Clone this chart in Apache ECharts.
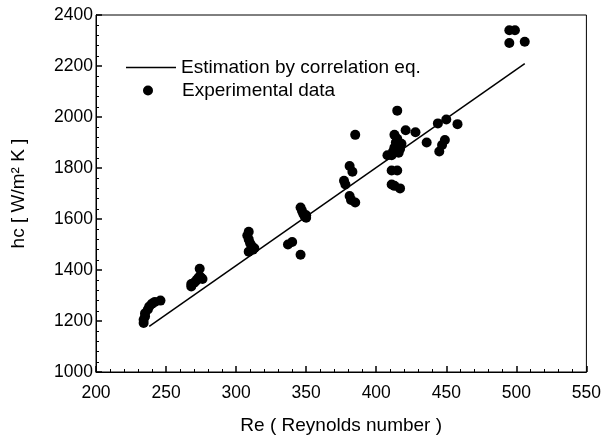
<!DOCTYPE html>
<html><head><meta charset="utf-8">
<script src="https://cdn.jsdelivr.net/npm/echarts@6/dist/echarts.min.js"></script>
<style>html,body{margin:0;padding:0;background:#fff}#c{width:604px;height:441px}</style>
</head><body><div id="c"></div>
<script>
// Experimental data
const expRe = [234,234,235,235,237,238,240,242,246,
  268,268,270,271,272,273,274,275,274,276,
  308,309,309,310,311,312,309,313,
  337,340,346,
  346,347,348,349,350,350,
  377,378,381,381,383,382,385,385,
  408,411,411,415,411,417,413,412,413,414,415,413,416,417,418,415,421,428,436,444,450,458,449,447,445,
  495,499,495,506];
const expHc = [1192,1205,1218,1230,1245,1257,1268,1275,1280,
  1335,1345,1350,1355,1362,1368,1375,1370,1405,1365,
  1535,1550,1520,1505,1495,1480,1472,1485,
  1500,1510,1460,
  1645,1632,1620,1610,1605,1615,
  1750,1735,1690,1808,1785,1675,1665,1930,
  1850,1850,1790,1790,1735,1720,1730,1865,1880,1900,1915,1930,1860,1875,1895,2025,1948,1940,1900,1975,1990,1972,1910,1890,1865,
  2340,2340,2290,2295];
// Correlation line
const corrRe = [238, 506];
const corrHc = [1179, 2209];
const seriesNames = ['Estimation by correlation eq.', 'Experimental data'];

const font = 'Liberation Sans, Arial, sans-serif';
const chart = echarts.init(document.getElementById('c'), null, {renderer:'canvas'});
chart.setOption({
  animation:false,
  backgroundColor:'#fff',
  grid:{left:96,right:16,top:15,bottom:69,show:true,borderColor:'#000',borderWidth:1},
  legend:[
    {data:[{name:seriesNames[0],icon:'rect'}],left:121,top:53,itemWidth:50,itemHeight:1.5,itemGap:4,
     itemStyle:{color:'#000'},
     textStyle:{fontFamily:font,fontSize:19,color:'#000'}},
    {data:[{name:seriesNames[1],icon:'circle'}],left:138,top:76,itemWidth:10,itemHeight:10,
     textStyle:{fontFamily:font,fontSize:19,color:'#000',padding:[0,0,0,24]}}
  ],
  xAxis:{type:'value',min:200,max:550,interval:50,
    name:'Re ( Reynolds number )',nameLocation:'middle',nameGap:44,
    nameTextStyle:{fontFamily:font,fontSize:19,color:'#000'},
    axisLine:{lineStyle:{color:'#000',width:1}},
    axisTick:{inside:true,length:6,lineStyle:{color:'#000',width:1.5}},
    minorTick:{show:true,splitNumber:5,length:3,lineStyle:{color:'#000'}},
    axisLabel:{fontFamily:font,fontSize:17.5,color:'#000',margin:12},
    splitLine:{show:false}},
  yAxis:{type:'value',min:1000,max:2400,interval:200,
    name:'hc [ W/m² K ]',nameLocation:'middle',nameGap:68,
    nameTextStyle:{fontFamily:font,fontSize:19,color:'#000'},
    axisLine:{lineStyle:{color:'#000',width:1}},
    axisTick:{inside:true,length:6,lineStyle:{color:'#000',width:1.5}},
    minorTick:{show:true,splitNumber:5,length:3,lineStyle:{color:'#000'}},
    axisLabel:{fontFamily:font,fontSize:17.5,color:'#000',margin:3,formatter:v=>String(v)},
    splitLine:{show:false}},
  series:[
    {name:seriesNames[0],type:'line',symbol:'none',
     data:corrRe.map((r,i)=>[r,corrHc[i]]),
     lineStyle:{color:'#000',width:1.5},itemStyle:{color:'#000'},z:3},
    {name:seriesNames[1],type:'scatter',symbol:'circle',symbolSize:10,
     data:expRe.map((r,i)=>[r,expHc[i]]),
     itemStyle:{color:'#000',opacity:1},z:4}
  ]
});
</script></body></html>
